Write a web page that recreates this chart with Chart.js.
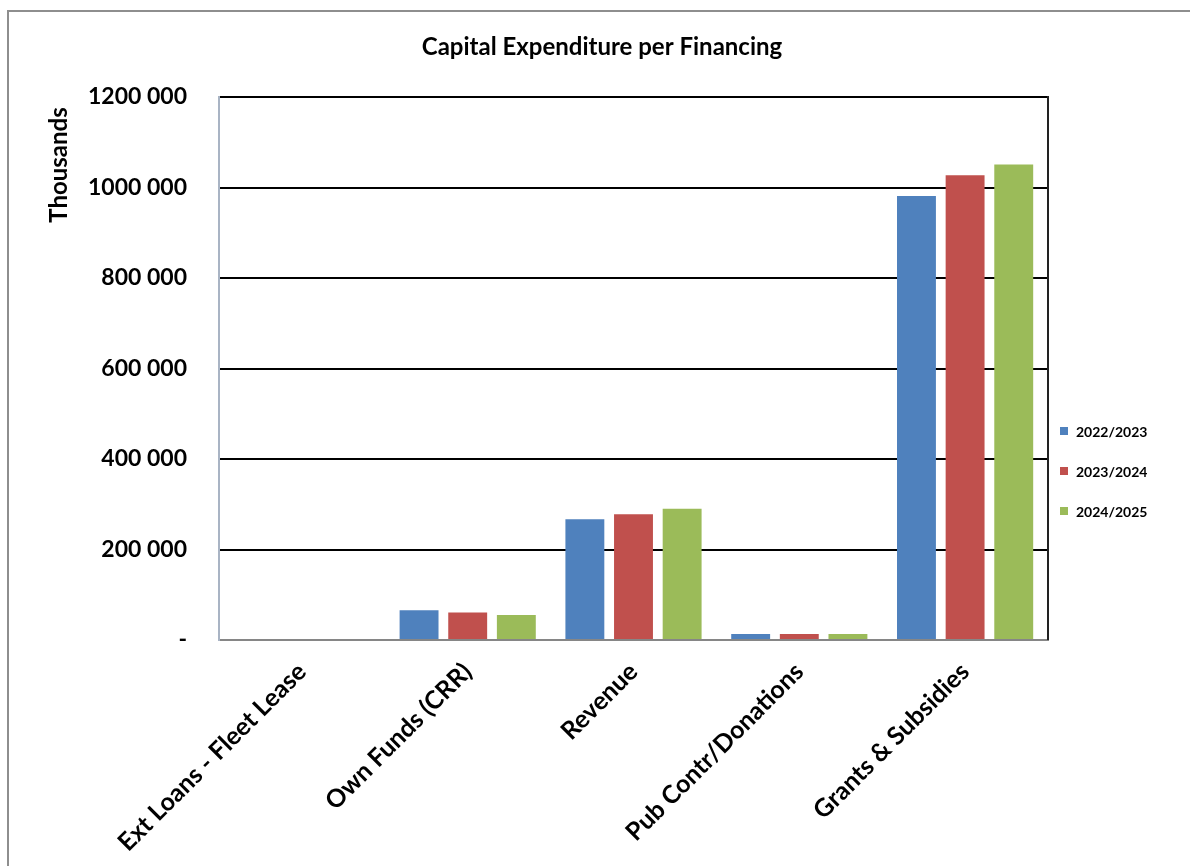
<!DOCTYPE html>
<html>
<head>
<meta charset="utf-8">
<title>Capital Expenditure per Financing</title>
<style>
    html, body {
        margin: 0;
        padding: 0;
        background: #fff;
    }
    #frame {
        position: absolute;
        left: 7px;
        top: 10px;
        width: 1190px;
        height: 900px;
        border-left: 2px solid #8e8e8e;
        border-top: 2px solid #8e8e8e;
    }
    #chart {
        position: absolute;
        left: 0;
        top: 0;
    }
</style>
<script src="https://cdn.jsdelivr.net/npm/chart.js"></script>
</head>
<body>
<div id="frame"></div>
<canvas id="chart" width="1190" height="866"></canvas>
<script>
    const categories = ['Ext Loans - Fleet Lease', 'Own Funds (CRR)', 'Revenue', 'Pub Contr/Donations', 'Grants & Subsidies'];
    const years = ['2022/2023', '2023/2024', '2024/2025'];
    const values2022 = [0, 66000, 267000, 13000, 981000];
    const values2023 = [0, 61000, 278000, 13000, 1027000];
    const values2024 = [0, 55000, 290000, 13000, 1051000];
    const yTicks = [0, 200000, 400000, 600000, 800000, 1000000, 1200000];
    const colors = ['#4f81bd', '#c0504d', '#9bbb59'];

    const FONT = 'Lato, "Open Sans", sans-serif';

    function fmt(v) {
        if (v === 0) return '-';
        const s = String(v);
        return s.slice(0, -3) + ' ' + s.slice(-3);
    }

    // title, y title, right border and the legend on the side
    const extras = {
        id: 'extras',
        afterDraw(chart) {
            const c = chart.ctx;
            const a = chart.chartArea;
            c.save();
            c.strokeStyle = '#222';
            c.lineWidth = 2;
            c.beginPath();
            c.moveTo(a.right, a.top - 1);
            c.lineTo(a.right, a.bottom);
            c.stroke();

            c.fillStyle = '#000';
            c.font = 'bold 24px ' + FONT;
            c.textAlign = 'center';
            c.textBaseline = 'middle';
            c.fillText('Capital Expenditure per Financing', 602, 47);

            c.save();
            c.translate(59, 165);
            c.rotate(-Math.PI / 2);
            c.font = 'bold 24px ' + FONT;
            c.fillText('Thousands', 0, 0);
            c.restore();

            c.font = 'bold 14px ' + FONT;
            c.textAlign = 'left';
            const ys = [431, 471, 511];
            chart.data.datasets.forEach((ds, i) => {
                c.fillStyle = ds.backgroundColor;
                c.fillRect(1060, ys[i] - 4, 8, 8);
                c.fillStyle = '#000';
                c.fillText(ds.label, 1076, ys[i] + 1);
            });
            c.restore();
        }
    };

    const seriesData = [values2022, values2023, values2024];

    new Chart(document.getElementById('chart'), {
        type: 'bar',
        data: {
            labels: categories,
            datasets: years.map((y, i) => ({
                label: y,
                data: seriesData[i],
                backgroundColor: colors[i],
                borderWidth: 0,
                categoryPercentage: 0.88,
                barPercentage: 0.8
            }))
        },
        options: {
            responsive: false,
            animation: false,
            devicePixelRatio: 1,
            layout: {
                padding: { left: 0, top: 97, right: 142, bottom: 0 }
            },
            plugins: {
                legend: { display: false },
                title: { display: false },
                tooltip: { enabled: false }
            },
            scales: {
                x: {
                    afterFit(scale) { scale.height = 226; },
                    grid: { display: false, drawTicks: false },
                    border: { color: '#868686', width: 2 },
                    ticks: {
                        maxRotation: 45,
                        minRotation: 45,
                        padding: 17,
                        color: '#000',
                        font: { family: FONT, size: 25, weight: 'bold' }
                    }
                },
                y: {
                    min: 0,
                    max: 1200000,
                    afterFit(scale) { scale.width = 219; },
                    afterBuildTicks(scale) {
                        scale.ticks = yTicks.map(v => ({ value: v }));
                    },
                    grid: {
                        drawTicks: false,
                        lineWidth: 2,
                        color: ctx => (ctx.tick && ctx.tick.value === 0) ? 'rgba(0,0,0,0)' : '#000'
                    },
                    border: { color: '#a9b4c4', width: 2 },
                    ticks: {
                        padding: 32,
                        color: '#000',
                        font: { family: FONT, size: 23, weight: 'bold' },
                        callback: v => fmt(v)
                    }
                }
            }
        },
        plugins: [extras]
    });
</script>
</body>
</html>
